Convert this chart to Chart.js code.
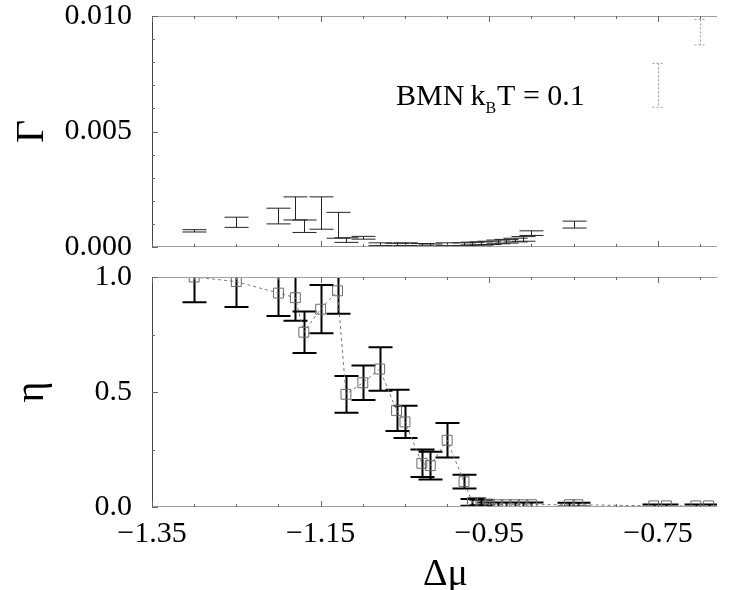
<!DOCTYPE html>
<html><head><meta charset="utf-8">
<script src="https://cdn.jsdelivr.net/npm/chart.js@4.4.1/dist/chart.umd.min.js"></script>
<style>
html,body{margin:0;padding:0;background:#fff;width:735px;height:590px;overflow:hidden}
#c1{position:absolute;left:0;top:0}
#c2{position:absolute;left:0;top:262px}
</style></head><body>
<canvas id="c1" width="735" height="262"></canvas>
<canvas id="c2" width="735" height="328"></canvas>
<script>
// ---- data ----
const xGamma   = [-1.30,-1.25,-1.20,-1.18,-1.17,-1.15,-1.13,-1.12,-1.10,-1.08,-1.06,-1.05,-1.03,-1.02,-1.00,-0.98,-0.97,-0.96,-0.95,-0.94,-0.93,-0.92,-0.91,-0.90,-0.85];
const gammaVal = [0.00070,0.00107,0.00134,0.00167,0.00090,0.00147,0.00094,0.00030,0.00040,0.00012,0.00010,0.00012,0.00010,0.00008,0.00012,0.00012,0.00015,0.00015,0.00018,0.00022,0.00025,0.00030,0.00035,0.00060,0.00097];
const gammaErr = [0.00005,0.00022,0.00034,0.00050,0.00027,0.00070,0.00056,0.00010,0.00006,0.00006,0.00006,0.00006,0.00005,0.00005,0.00006,0.00006,0.00006,0.00007,0.00007,0.00008,0.00008,0.00008,0.00010,0.00010,0.00015];
const xGammaFaint   = [-0.75,-0.70];
const gammaFaintVal = [0.00700,0.00930];
const gammaFaintErr = [0.00095,0.00055];

const xEta   = [-1.30,-1.25,-1.20,-1.18,-1.17,-1.15,-1.13,-1.12,-1.10,-1.08,-1.06,-1.05,-1.03,-1.02,-1.00,-0.98,-0.97,-0.96,-0.95,-0.94,-0.93,-0.92,-0.91,-0.90,-0.855,-0.845,-0.755,-0.74,-0.705,-0.69];
const etaVal = [1.00,0.98,0.93,0.91,0.76,0.86,0.94,0.49,0.54,0.60,0.42,0.37,0.19,0.18,0.29,0.11,0.02,0.02,0.01,0.01,0.01,0.01,0.01,0.01,0.01,0.01,0.005,0.005,0.005,0.005];
const etaErr = [0.11,0.11,0.10,0.10,0.09,0.105,0.10,0.08,0.075,0.095,0.09,0.07,0.06,0.06,0.075,0.03,0.015,0.012,0.01,0.01,0.01,0.01,0.01,0.01,0.008,0.008,0.006,0.006,0.006,0.006];

const xTickLabels = [-1.35,-1.15,-0.95,-0.75];
const xMinorTicks = [-1.35,-1.30,-1.25,-1.20,-1.15,-1.10,-1.05,-1.00,-0.95,-0.90,-0.85,-0.80,-0.75,-0.70];
const gammaTicks = [0,0.005,0.010];
const gammaMinor = [0.001,0.002,0.003,0.004,0.006,0.007,0.008,0.009];
const etaTicks = [0,0.5,1.0];
const etaMinor = [0.25,0.75];
const gammaTitle = 'Γ';
const etaTitle = 'η';
const xTitle = 'Δμ';
const panelText = ['BMN', 'k', 'B', 'T = 0.1'];

const SERIF = "'Liberation Serif','Times New Roman',serif";

const errPlugin = {
  id: 'errbars',
  beforeDatasetsDraw(chart) {
    const {ctx, chartArea: a, scales: {x, y}} = chart;
    ctx.save();
    ctx.beginPath(); ctx.rect(a.left, a.top, a.right - a.left, a.bottom - a.top); ctx.clip();
    chart.data.datasets.forEach(ds => {
      if (!ds.errors) return;
      ctx.strokeStyle = ds.errorColor; ctx.lineWidth = ds.errorWidth;
      if (ds.errorDash) ctx.setLineDash(ds.errorDash); else ctx.setLineDash([]);
      const cap = ds.capHalf;
      ctx.beginPath();
      ds.data.forEach((pt, i) => {
        const px = Math.round(x.getPixelForValue(pt.x)) + 0.5;
        const hi = y.getPixelForValue(pt.y + ds.errors[i]);
        const lo = y.getPixelForValue(pt.y - ds.errors[i]);
        ctx.moveTo(px, hi); ctx.lineTo(px, lo);
        ctx.moveTo(px - cap, hi); ctx.lineTo(px + cap, hi);
        ctx.moveTo(px - cap, lo); ctx.lineTo(px + cap, lo);
      });
      ctx.stroke();
    });
    ctx.restore();
  }
};

const framePlugin = {
  id: 'frame',
  afterDatasetsDraw(chart, args, opts) {
    const {ctx, chartArea: a, scales: {x, y}} = chart;
    ctx.save();
    ctx.lineWidth = 1;
    ctx.strokeStyle = '#a0a0a0';
    ctx.beginPath();
    ctx.moveTo(a.left, a.top + 0.5); ctx.lineTo(a.right, a.top + 0.5);
    ctx.moveTo(a.left, a.bottom - 0.5); ctx.lineTo(a.right, a.bottom - 0.5);
    ctx.stroke();
    ctx.strokeStyle = '#444';
    ctx.beginPath(); ctx.moveTo(a.left + 0.5, a.top); ctx.lineTo(a.left + 0.5, a.bottom); ctx.stroke();
    ctx.strokeStyle = '#666';
    ctx.beginPath();
    xMinorTicks.forEach(v => {
      const p = Math.round(x.getPixelForValue(v)) + 0.5;
      const L = xTickLabels.some(t => Math.abs(t - v) < 1e-9) ? 6 : 3;
      ctx.moveTo(p, a.top); ctx.lineTo(p, a.top + L);
      ctx.moveTo(p, a.bottom); ctx.lineTo(p, a.bottom - L);
    });
    opts.yMinor.forEach(v => { const p = Math.round(y.getPixelForValue(v)) + 0.5; ctx.moveTo(a.left, p); ctx.lineTo(a.left + 3, p); });
    opts.yMajor.forEach(v => { const p = Math.round(y.getPixelForValue(v)) + 0.5; ctx.moveTo(a.left, p); ctx.lineTo(a.left + 6, p); });
    ctx.stroke();
    ctx.restore();
  }
};

const labelPlugin = {
  id: 'panelLabel',
  afterDraw(chart, args, opts) {
    const {ctx, chartArea: a} = chart;
    ctx.save();
    ctx.fillStyle = '#000';
    ctx.textBaseline = 'alphabetic';
    if (opts.kind === 'top') {
      let x0 = a.left + (a.right - a.left) * 0.432;
      const base = a.top + 89;
      ctx.font = '30px ' + SERIF;
      ctx.fillText(panelText[0], x0, base); x0 += ctx.measureText(panelText[0]).width + 6;
      ctx.fillText(panelText[1], x0, base); x0 += ctx.measureText(panelText[1]).width;
      ctx.font = '16px ' + SERIF;
      ctx.fillText(panelText[2], x0, base + 8); x0 += ctx.measureText(panelText[2]).width + 1;
      ctx.font = '30px ' + SERIF;
      ctx.fillText(panelText[3], x0, base);
    } else {
      ctx.font = '38px ' + SERIF;
      ctx.textAlign = 'center';
      ctx.fillText(xTitle, (a.left + a.right) / 2 + 11, a.bottom + 78);
    }
    ctx.restore();
  }
};

const yTickFont = {family: SERIF, size: 30, lineHeight: 1};
function fitY(s) { s.width = 152; s.paddingTop = 12; s.paddingBottom = 12; }

new Chart(document.getElementById('c1'), {
  type: 'scatter',
  data: {datasets: [
    {data: xGamma.map((x, i) => ({x, y: gammaVal[i]})), errors: gammaErr, errorColor: '#222', errorWidth: 1, capHalf: 12, pointRadius: 0, showLine: false},
    {data: xGammaFaint.map((x, i) => ({x, y: gammaFaintVal[i]})), errors: gammaFaintErr, errorColor: '#9a9a9a', errorWidth: 1, errorDash: [2, 2], capHalf: 6, pointRadius: 0, showLine: false}
  ]},
  options: {
    responsive: false, animation: false, events: [],
    layout: {padding: {top: 16, right: 18, bottom: 15, left: 0}},
    plugins: {legend: {display: false}, tooltip: {enabled: false},
      frame: {yMinor: gammaMinor, yMajor: gammaTicks}, panelLabel: {kind: 'top'}},
    scales: {
      x: {type: 'linear', min: -1.35, max: -0.68, display: false},
      y: {type: 'linear', min: 0, max: 0.01,
        afterFit: fitY,
        afterBuildTicks(s) { s.ticks = gammaTicks.map(v => ({value: v})); },
        grid: {display: false, drawTicks: false}, border: {display: false},
        ticks: {font: yTickFont, color: '#000', padding: 20, callback: v => Number(v).toFixed(3)},
        title: {display: true, text: gammaTitle, font: {family: SERIF, size: 40}, color: '#000', padding: {top: 8, bottom: 0}}
      }
    }
  },
  plugins: [errPlugin, framePlugin, labelPlugin]
});

new Chart(document.getElementById('c2'), {
  type: 'scatter',
  data: {datasets: [
    {data: xEta.map((x, i) => ({x, y: etaVal[i]})), errors: etaErr, errorColor: '#000', errorWidth: 2, capHalf: 12,
     pointStyle: 'rect', pointRadius: 7, pointBorderColor: '#6a6a6a', pointBackgroundColor: 'rgba(0,0,0,0)', pointBorderWidth: 1,
     showLine: true, borderColor: '#777', borderWidth: 1, borderDash: [3, 3]}
  ]},
  options: {
    responsive: false, animation: false, events: [],
    layout: {padding: {top: 15, right: 18, bottom: 0, left: 0}},
    plugins: {legend: {display: false}, tooltip: {enabled: false},
      frame: {yMinor: etaMinor, yMajor: etaTicks}, panelLabel: {kind: 'bottom'}},
    scales: {
      x: {type: 'linear', min: -1.35, max: -0.68,
        afterFit(s) { s.height = 83; },
        afterBuildTicks(s) { s.ticks = xTickLabels.map(v => ({value: v})); },
        grid: {display: false, drawTicks: false}, border: {display: false},
        ticks: {font: yTickFont, color: '#000', padding: 12, maxRotation: 0, autoSkip: false,
          callback: v => '\u2212' + Math.abs(v).toFixed(2)}
      },
      y: {type: 'linear', min: 0, max: 1,
        afterFit: fitY,
        afterBuildTicks(s) { s.ticks = etaTicks.map(v => ({value: v})); },
        grid: {display: false, drawTicks: false}, border: {display: false},
        ticks: {font: yTickFont, color: '#000', padding: 20, callback: v => Number(v).toFixed(1)},
        title: {display: true, text: etaTitle, font: {family: SERIF, size: 40}, color: '#000', padding: {top: 8, bottom: 0}}
      }
    }
  },
  plugins: [errPlugin, framePlugin, labelPlugin]
});
</script>
</body></html>
